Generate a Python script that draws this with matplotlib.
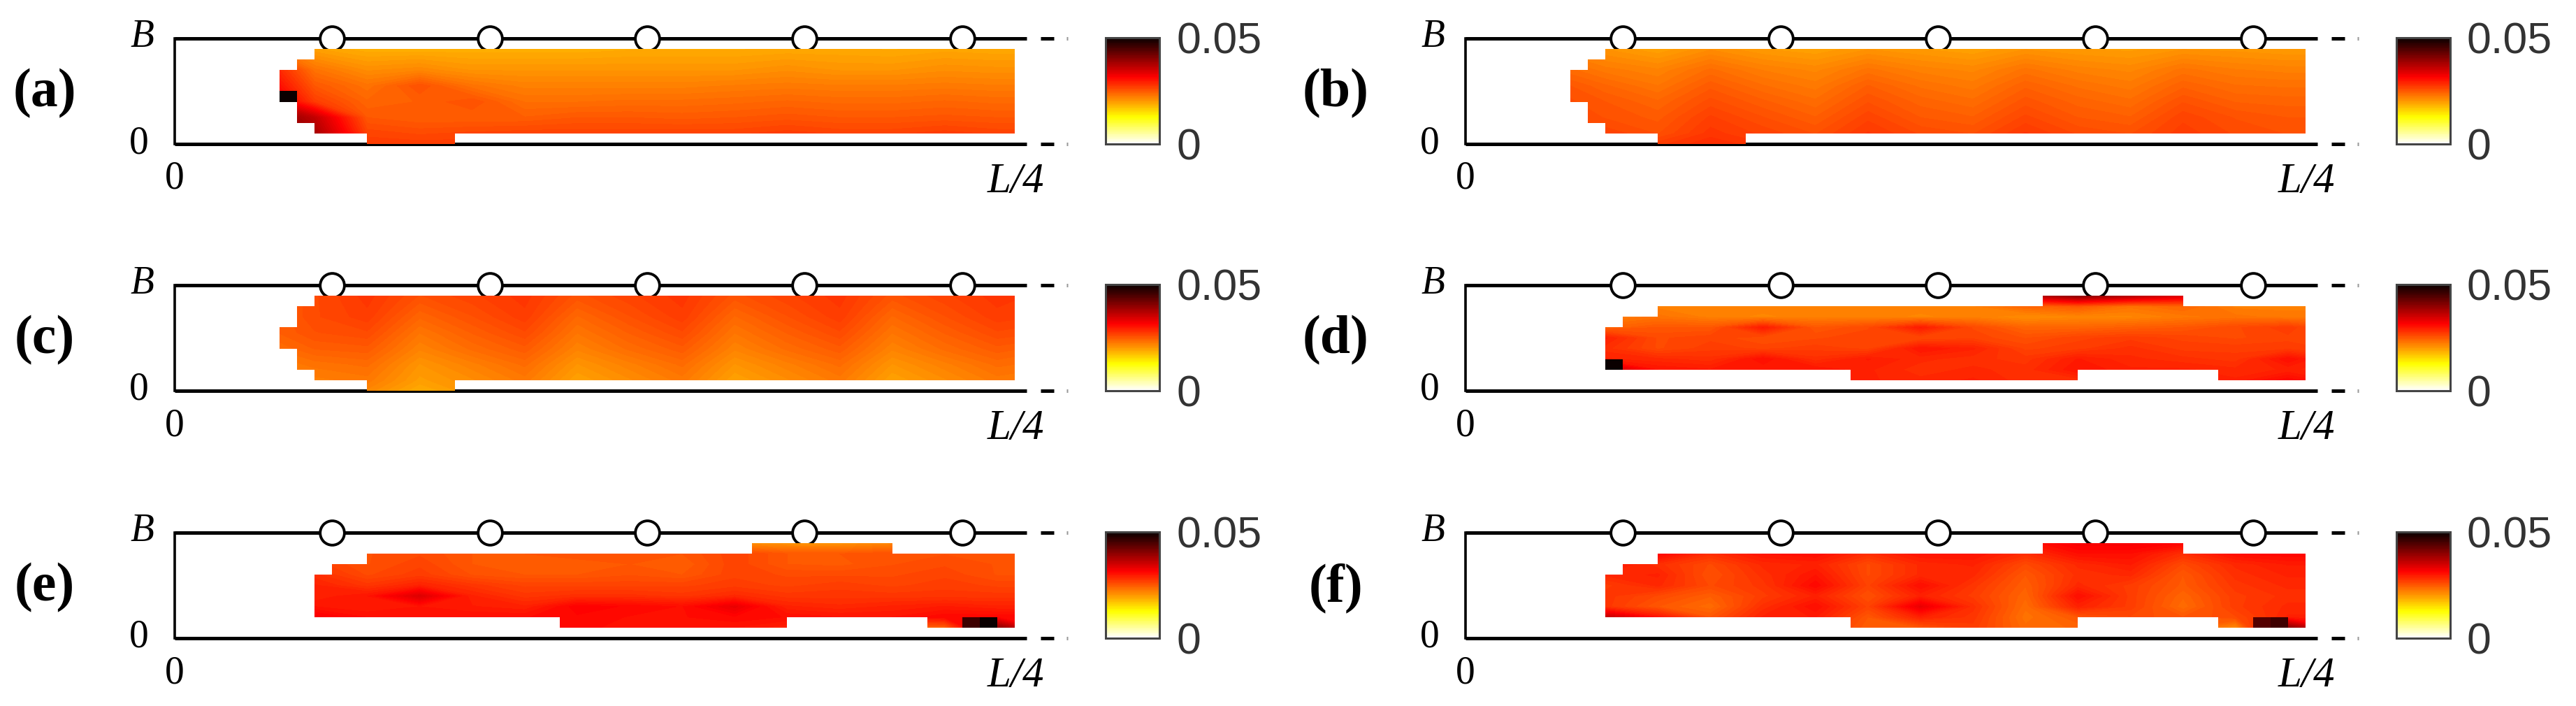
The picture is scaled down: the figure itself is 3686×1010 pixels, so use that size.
import numpy as np
import matplotlib
matplotlib.use("Agg")
import matplotlib.pyplot as plt
from matplotlib.cm import ScalarMappable
from matplotlib.colors import LinearSegmentedColormap, Normalize
from matplotlib.patches import PathPatch
from matplotlib.path import Path
from matplotlib.transforms import Affine2D

W, H = 3686, 1010

# field values are in units of 1e-3, top row of each table first
x_nodes = [5, 8, 11, 14, 17, 20, 23, 26, 29, 32, 35, 38, 41, 44, 47, 50]
y_smooth = [9, 7, 5.5, 4, 2.5, 1, 0]
y_rough = [9, 8, 7, 6, 5, 4, 3, 2, 1]

field_a = [
    [24, 19.5, 18.5, 18.5, 18.5, 18.5, 18.5, 18.8, 18.8, 18.8, 19, 19, 18.8, 19.2, 19, 19],
    [31, 23, 21, 21.5, 20.5, 20.5, 20.5, 20.5, 20.5, 20.5, 21, 20.5, 20.5, 21, 20.8, 20.8],
    [33, 25, 23, 25.5, 23, 22, 22, 22, 22, 22.3, 22.5, 22.3, 22.3, 22.5, 22.3, 22.3],
    [36, 27, 24, 24.5, 25.5, 23.3, 23.3, 23.5, 23.5, 23.7, 24, 23.7, 23.7, 24, 23.7, 23.7],
    [42, 36, 25, 24.5, 24.5, 24.5, 25, 25, 24.8, 25, 25.3, 25, 25, 25.2, 25, 25],
    [42, 38, 26.5, 26, 26.3, 26.5, 26.5, 26.5, 26.5, 26.5, 27, 26.5, 26.5, 27, 26.5, 26.5],
    [40, 32, 27, 27, 27, 27, 27, 27, 27, 27, 27.5, 27, 27, 27.5, 27, 27],
]
field_b = [
    [22, 20.5, 19.5, 21, 20, 19.5, 20.5, 20, 19.5, 20.5, 20, 19.8, 20.5, 20.3, 20, 20],
    [24, 22.5, 21.8, 23.5, 22.2, 21.5, 23, 22, 21.5, 23, 22, 21.5, 23, 22.3, 22, 22],
    [25.5, 24, 22.8, 24.8, 23.4, 22.5, 24.5, 23.2, 22.5, 24.3, 23.2, 22.5, 24.3, 23.4, 23.2, 23.2],
    [26, 25, 24, 25.8, 24.6, 23.5, 25.5, 24.2, 23.5, 25.3, 24.2, 23.5, 25.5, 24.4, 24.2, 24.2],
    [26.5, 25.5, 24.8, 26.8, 25.6, 24.5, 26.5, 25, 24.5, 26.3, 25, 24.5, 26.5, 25.5, 25, 25],
    [27, 26.5, 25.5, 27.5, 26.5, 25.5, 27.3, 26, 25.5, 27.3, 26, 25.5, 27, 26, 25.5, 25.5],
    [27, 27, 27, 28.3, 27.3, 26, 28, 26.5, 26, 28, 26.5, 26, 28, 26.5, 26, 26],
]
field_c = [
    [24, 26, 27.5, 25.5, 26.5, 27.5, 25.3, 26.5, 27.5, 25.3, 26.5, 27.5, 25.3, 26.5, 27.5, 27],
    [24, 26, 27, 24, 25.5, 27, 23.8, 25.5, 27, 23.8, 25.5, 27, 23.8, 25.5, 27, 26.5],
    [24, 25.5, 26, 22.8, 24.5, 26, 22.8, 24.5, 26, 22.8, 24.5, 26, 22.8, 24.5, 26, 25.5],
    [23, 24.5, 24.8, 21.8, 23.5, 24.8, 21.8, 23.5, 24.8, 21.8, 23.5, 24.8, 21.8, 23.5, 24.8, 24],
    [22, 23, 23.5, 20.5, 22, 23.5, 20.5, 22, 23.5, 20.5, 22, 23.5, 20.5, 22, 23.5, 23],
    [21, 22, 22.5, 19.8, 21, 22.5, 19.5, 21, 22.5, 19.5, 21, 22.5, 19.5, 21, 22.5, 22],
    [20, 21, 21.5, 18.8, 20.5, 21.5, 18.8, 20.5, 21.5, 18.8, 20.5, 21.5, 18.8, 20.5, 21.5, 21],
]
field_d = [
    [30, 30, 30, 30, 30, 30, 30, 30, 30, 36, 40, 37, 34, 34, 30, 30],
    [22, 22, 22, 22, 22, 22, 22, 22, 22, 24, 25, 23, 24, 22, 22, 22],
    [22, 22, 23, 22, 21.5, 22, 22, 21.5, 22, 21, 21.5, 21.5, 22.5, 23, 22.5, 22.5],
    [23, 24, 25, 25, 29.5, 25, 26, 29.5, 26, 24, 24, 24.5, 25, 26, 27, 25],
    [24, 29, 26, 26.5, 25.5, 26, 26.5, 26, 26.5, 25.5, 26.5, 27, 26.5, 26, 26.5, 26],
    [25, 28, 26, 27, 26.5, 27, 26.5, 30, 29, 26.5, 27, 28, 27, 27, 27, 26.5],
    [30, 29, 28.5, 28, 30.5, 28, 29.5, 28.5, 28, 27.5, 29.5, 28.5, 28, 27.5, 30.5, 28],
    [45, 36, 30, 29.5, 29.5, 30, 29, 28, 28.5, 28, 30, 29, 29, 28.5, 29, 28.5],
    [30, 30, 30, 30, 30, 28.5, 29, 28.5, 29, 28, 28, 28, 29, 29, 31, 29],
]
field_e = [
    [21, 21, 21, 21, 21, 21, 21, 21, 21, 21, 20.5, 20.5, 21.5, 25, 25, 25],
    [25, 25, 25.5, 26, 25, 25, 25.5, 25.5, 25, 26.5, 25, 25, 25.5, 25.5, 25.5, 25.5],
    [27, 27, 25.5, 26.5, 25, 24.5, 24.5, 25, 24.5, 26.5, 25, 24.8, 25.5, 26, 25.5, 25.5],
    [28, 28, 26, 27, 25.5, 25, 25, 25.5, 25, 26.5, 26, 26, 26, 26.5, 25.5, 25.5],
    [29, 29, 27.5, 29, 27.5, 26.5, 26.5, 26.5, 26.5, 27, 26.5, 27, 26.5, 27, 26.5, 26.5],
    [29, 29, 30, 34, 29, 27.5, 28, 28, 27.5, 28.5, 27.5, 27.5, 27.5, 27.5, 27.5, 27.5],
    [30, 30, 29.5, 30, 29.5, 29, 31.5, 31, 30.5, 33, 29, 28.5, 29, 29.5, 29, 29],
    [32, 32, 30.5, 30.5, 30.5, 30.5, 31, 30.5, 30.5, 31, 30.5, 30, 30, 31, 31, 31],
    [30, 30, 30, 30, 30, 30, 31, 30, 30, 30, 29, 29, 24, 24, 40, 30],
]
field_f = [
    [31, 31, 31, 31, 31, 31, 31, 31, 31, 30, 32, 32, 31, 31, 31, 31],
    [31, 31, 31, 28, 30, 30.5, 28, 30, 30, 28, 30.5, 30.5, 28, 30.5, 31, 31],
    [30, 30, 28, 26, 28.5, 29, 26, 28.5, 29, 26, 28.5, 29.5, 26, 28.5, 29.5, 29.5],
    [28, 28.5, 29, 25.5, 28, 30, 26, 28.5, 28.5, 25, 28, 28.5, 25, 28, 29, 29],
    [27.5, 27, 28.5, 26, 27.5, 31, 26.5, 30.5, 27.5, 24.5, 28.5, 27, 24.8, 27.5, 28.5, 28.5],
    [27.5, 27.5, 26, 24.5, 27, 29, 25.5, 29, 27, 24, 30.5, 27, 24, 27, 28, 28],
    [28, 27.5, 25, 23.5, 28, 30.5, 26.5, 33, 28, 23.5, 29, 27, 23.5, 27, 28.5, 28.5],
    [34, 36, 30, 25, 29, 29.5, 25, 29, 27.5, 23, 25, 26, 25, 26, 29, 29],
    [30, 30, 29, 28, 28, 28, 24.5, 25, 27, 23.5, 24, 24, 25, 21, 40, 31],
]

# cells with a value of their own: column, row, value
hot_a = [(6, 4, 50)]
hot_d = [(8, 2, 50)]
hot_e = [(45, 1, 46), (46, 1, 50)]
hot_f = [(45, 1, 44), (46, 1, 46)]

# cells that hold data: row, first column, end column
spans_ab = [(0, 11, 16), (1, 8, 48), (2, 7, 48), (3, 7, 48), (4, 6, 48), (5, 6, 48),
            (6, 6, 48), (7, 7, 48), (8, 8, 48)]
spans_c = [(0, 11, 16), (1, 8, 48), (2, 7, 48), (3, 7, 48), (4, 6, 48), (5, 6, 48),
           (6, 7, 48), (7, 7, 48), (8, 8, 48)]
spans_def = [(1, 22, 35), (1, 43, 48), (2, 8, 48), (3, 8, 48), (4, 8, 48), (5, 8, 48),
             (6, 9, 48), (7, 11, 48), (8, 33, 41)]

support_cols = [9, 18, 27, 36, 45]
panel_names = ["(a)", "(b)", "(c)", "(d)", "(e)", "(f)"]
fields = [field_a, field_b, field_c, field_d, field_e, field_f]
y_grids = [y_smooth, y_smooth, y_smooth, y_rough, y_rough, y_rough]
span_sets = [spans_ab, spans_ab, spans_c, spans_def, spans_def, spans_def]
hot_sets = [hot_a, [], [], hot_d, hot_e, hot_f]

plt.rcParams["font.family"] = ["Liberation Serif", "DejaVu Serif"]

cmap = LinearSegmentedColormap.from_list(
    "flame", [(0, "#ffffff"), (0.25, "#ffff00"), (0.63, "#ff0000"), (1, "#0a0000")], N=90)
levels = np.linspace(0, 50, 91)


def px_axes(fig, x0, y0, x1, y1):
    return fig.add_axes([x0 / W, 1 - y1 / H, (x1 - x0) / W, (y1 - y0) / H])


def draw_panel(fig, col, row, idx):
    dx = 1847 * col
    dy = [0, 353, 707][row]
    norm = Normalize(0, 50)

    ax = px_axes(fig, 250 + dx, 55 + dy, 1527 + dx, 206 + dy)
    ax.set_xlim(0, 51)
    ax.set_ylim(0, 10)
    ax.axis("off")

    # frame with the dashes that say the plate goes on
    for yy in [0, 10]:
        ax.plot([0, 48.7], [yy, yy], color="black", lw=3.6, clip_on=False, solid_capstyle="butt", zorder=1)
        ax.plot([49.5, 50.25], [yy, yy], color="black", lw=3.6, clip_on=False, solid_capstyle="butt", zorder=1)
        ax.plot([50.98, 51.02], [yy, yy], color="#999999", lw=3.6, clip_on=False, solid_capstyle="butt", zorder=1)
    ax.plot([0, 0], [0, 10], color="black", lw=2.6, clip_on=False, zorder=1)

    ax.plot(support_cols, [10] * 5, "o", ms=25, mfc="white", mec="black", mew=2.8,
            clip_on=False, zorder=2)

    # the field is only shown on the cells that hold data
    rects = [Path.unit_rectangle().transformed(Affine2D().scale(c1 - c0, 1).translate(c0, r))
             for r, c0, c1 in span_sets[idx]]
    mask = PathPatch(Path.make_compound_path(*rects), transform=ax.transData)
    zz = np.array(fields[idx], dtype=float)[::-1]
    cs = ax.contourf(x_nodes, y_grids[idx][::-1], zz, levels=levels, cmap=cmap, norm=norm, zorder=3)
    cs.set_clip_path(mask)

    for c, r, v in hot_sets[idx]:
        ax.pcolormesh([c, c + 1], [r, r + 1], [[v]], cmap=cmap, norm=norm, zorder=4)

    def label(x, y, s, size, **extra):
        fig.text((x + dx) / W, 1 - (y + dy) / H, s, va="center", color=extra.pop("color", "black"),
                 ha=extra.pop("ha", "center"), fontsize=size, **extra)

    label(64, 134, panel_names[idx], 56, fontweight="bold")
    label(203, 53, "B", 40, style="italic")
    label(199, 205, "0", 40)
    label(250, 256, "0", 40)
    label(1454, 260, "L/4", 44, style="italic")

    cax = px_axes(fig, 1582 + dx, 54 + dy, 1659 + dx, 206 + dy)
    cb = fig.colorbar(ScalarMappable(norm=norm, cmap=cmap), cax=cax)
    cb.set_ticks([])
    cb.outline.set_edgecolor("#444444")
    cb.outline.set_linewidth(2.2)
    sans = ["Liberation Sans", "DejaVu Sans"]
    label(1683, 60, "0.05", 45, ha="left", color="#333333", family=sans)
    label(1683, 212, "0", 45, ha="left", color="#333333", family=sans)


fig = plt.figure(figsize=(W / 100, H / 100), dpi=100)
for i in range(6):
    draw_panel(fig, i % 2, i // 2, i)

fig.savefig("out.png", dpi=100)
